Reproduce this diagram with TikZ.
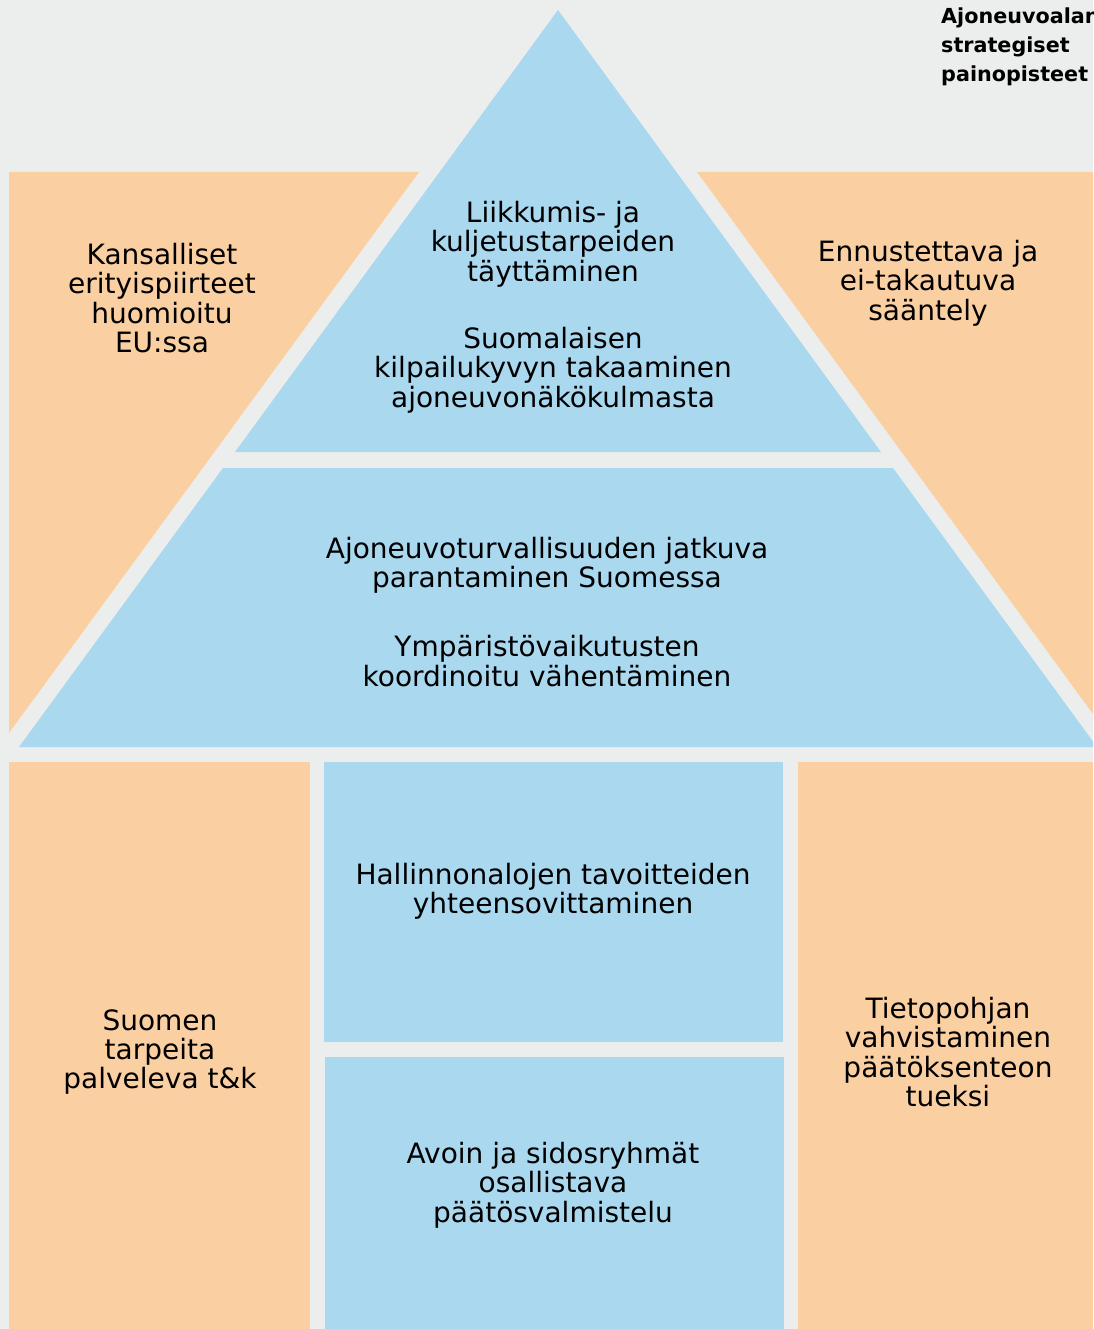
\documentclass[tikz,border=0pt]{standalone}
\usepackage{fontspec}
\setmainfont{DejaVu Sans}
\definecolor{bggrey}{HTML}{ECEEED}
\definecolor{skyblue}{HTML}{A9D8EF}
\definecolor{peach}{HTML}{FACFA2}

\begin{document}
\begin{tikzpicture}[x=1pt, y=-1pt, every node/.style={align=center,
                            inner sep=0pt,
                            font=\fontsize{28}{29.3}\selectfont}]
                \clip (0,0) rectangle (1093,1329);
                \fill[bggrey] (0,0) rectangle (1093,1329);

                \fill[peach] (9,172) -- (419,172) -- (9,733) -- cycle;
                \fill[peach] (697,172) -- (1093,172) -- (1093,714) -- cycle;
                \fill[skyblue] (558,10) -- (881,452) -- (235,452) -- cycle;
                \fill[skyblue] (223,468) -- (893,468) -- (1097,747) -- (19,747) -- cycle;
                \fill[peach] (9,762) rectangle (310,1329);
                \fill[skyblue] (324,762) rectangle (783,1042);
                \fill[skyblue] (325,1057) rectangle (784,1329);
                \fill[peach] (798,762) rectangle (1093,1329);

                \node[anchor=north west, align=left,
                      font=\fontsize{20.7}{29}\selectfont\bfseries] (title) at (941,8)
                    {Ajoneuvoalan\\strategiset\\painopisteet};

                \node (left)   at (162,298)  {Kansalliset\\erityispiirteet\\huomioitu\\EU:ssa};
                \node (right)  at (928,283)  {Ennustettava ja\\ei-takautuva\\sääntely};
                \node (apexA)  at (553,244)  {Liikkumis- ja\\kuljetustarpeiden\\täyttäminen};
                \node (apexB)  at (553,370)  {Suomalaisen\\kilpailukyvyn takaaminen\\ajoneuvonäkökulmasta};
                \node (baseA)  at (547,565)  {Ajoneuvoturvallisuuden jatkuva\\parantaminen Suomessa};
                \node (baseB)  at (547,661)  {Ympäristövaikutusten\\koordinoitu vähentäminen};
                \node (pillL)  at (160,1052) {Suomen\\tarpeita\\palveleva t\&k};
                \node (pillT)  at (553,891)  {Hallinnonalojen tavoitteiden\\yhteensovittaminen};
                \node (pillB)  at (553,1185) {Avoin ja sidosryhmät\\osallistava\\päätösvalmistelu};
                \node (pillR)  at (948,1052) {Tietopohjan\\vahvistaminen\\päätöksenteon\\tueksi};
            \end{tikzpicture}
\end{document}
